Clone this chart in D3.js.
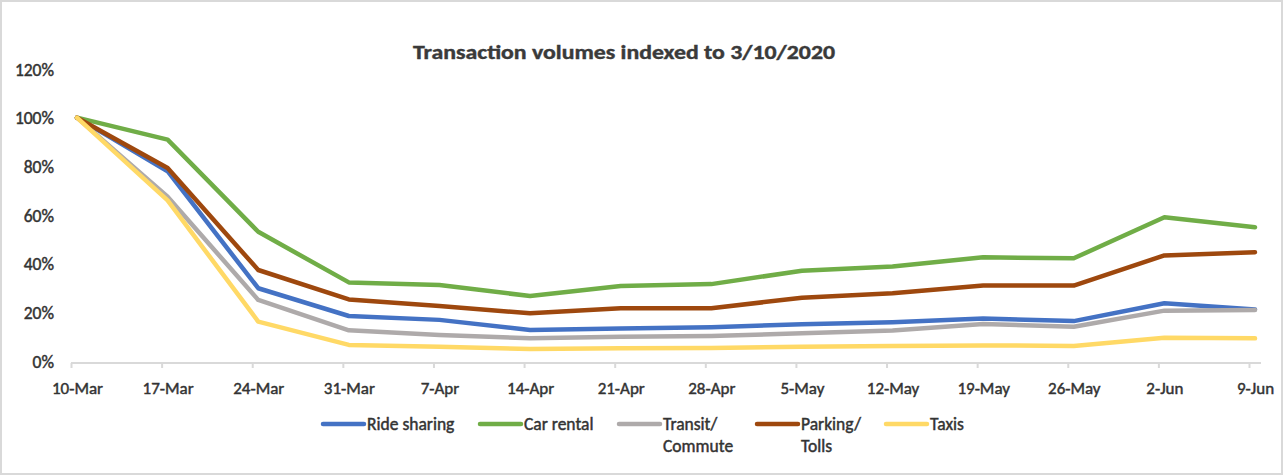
<!DOCTYPE html>
<html>
<head>
<meta charset="utf-8">
<script src="https://cdn.jsdelivr.net/npm/d3@7"></script>
<style>
  html, body { margin: 0; padding: 0; background: #fff; }
  svg { display: block; }
</style>
</head>
<body>
<svg id="chart" width="1284" height="476"></svg>
<script>
const categories = ["10-Mar","17-Mar","24-Mar","31-Mar","7-Apr","14-Apr","21-Apr","28-Apr","5-May","12-May","19-May","26-May","2-Jun","9-Jun"];
const rideSharing = [100, 78, 29.9, 18.5, 16.9, 12.7, 13.4, 13.9, 15.1, 15.9, 17.5, 16.4, 23.7, 21.2];
const carRental   = [100, 91, 53.1, 32.3, 31.2, 26.7, 30.8, 31.6, 37.1, 38.8, 42.6, 42.2, 59.1, 55.0];
const transit     = [100, 67.5, 25.1, 12.6, 10.7, 9.3, 10.0, 10.3, 11.4, 12.5, 15.2, 14.1, 20.7, 21.0];
const parking     = [100, 79.3, 37.4, 25.3, 22.6, 19.6, 21.7, 21.7, 26.0, 27.8, 31.0, 31.0, 43.4, 44.7];
const taxis       = [100, 66, 16.2, 6.6, 5.9, 4.9, 5.2, 5.3, 5.9, 6.2, 6.4, 6.2, 9.6, 9.3];
const yTicks = [0, 20, 40, 60, 80, 100, 120];
const seriesNames = [["Ride sharing"], ["Car rental"], ["Transit/", "Commute"], ["Parking/", "Tolls"], ["Taxis"]];
const seriesValues = [rideSharing, carRental, transit, parking, taxis];
const colors = ["#4472C4", "#70AD47", "#AEAAAA", "#9E480E", "#FFD966"];
const titleText = "Transaction volumes indexed to 3/10/2020";

const svg = d3.select("#chart");
const FONT = "Calibri, Carlito, Lato, 'Open Sans', sans-serif";
const textColor = "#333333";

function styleText(sel, size) {
  sel.attr("font-family", FONT).attr("font-size", size).attr("fill", textColor)
    .attr("stroke", textColor).attr("stroke-width", 0.45).attr("paint-order", "stroke");
}

// border
svg.append("rect").attr("x", 1).attr("y", 1).attr("width", 1281).attr("height", 473)
  .attr("fill", "#fff").attr("stroke", "#d9d9d9").attr("stroke-width", 2);

// title
svg.append("text").attr("x", 624).attr("y", 59).attr("text-anchor", "middle")
  .attr("font-family", FONT).attr("font-weight", "bold").attr("font-size", 19.5)
  .attr("fill", "#3a3a3a").attr("stroke", "#3a3a3a").attr("stroke-width", 0.4)
  .attr("textLength", 422).attr("lengthAdjust", "spacingAndGlyphs")
  .text(titleText);

const x = d3.scalePoint().domain(categories).range([77, 1255]);
const y = d3.scaleLinear().domain([0, 120]).range([361, 69]);

// y axis labels
const yAxis = d3.axisLeft(y).tickValues(yTicks).tickFormat(d => d + "%").tickSize(0).tickPadding(0);
const yg = svg.append("g").attr("transform", "translate(54,0)").call(yAxis);
yg.select(".domain").remove();
styleText(yg.selectAll("text"), 17.5);
yg.selectAll("text").attr("dy", "0.35em");

// x axis line and ticks (ticks offset left of category points)
const xAxis = d3.axisBottom(x).tickSize(5).tickSizeOuter(0).tickPadding(14);
const xg = svg.append("g").attr("transform", "translate(0,363)").call(xAxis);
xg.select(".domain").attr("d", "M71,0H1261").attr("stroke", "#d9d9d9").attr("stroke-width", 2);
xg.selectAll(".tick line").attr("stroke", "#d9d9d9").attr("stroke-width", 2).attr("transform", "translate(-6,0)");
styleText(xg.selectAll(".tick text"), 17);

// lines
const line = d3.line().x((d, i) => x(categories[i])).y(d => y(d));
seriesValues.forEach((vals, k) => {
  svg.append("path").datum(vals).attr("d", line)
    .attr("fill", "none").attr("stroke", colors[k]).attr("stroke-width", 4.5)
    .attr("stroke-linejoin", "round").attr("stroke-linecap", "round");
});

// legend
const legendX = [323, 480, 619, 757, 886];
seriesNames.forEach((lines, k) => {
  const g = svg.append("g").attr("transform", `translate(${legendX[k]},424)`);
  g.append("line").attr("x1", 0).attr("x2", 41).attr("y1", 0).attr("y2", 0)
    .attr("stroke", colors[k]).attr("stroke-width", 4.5).attr("stroke-linecap", "round");
  lines.forEach((t, j) => {
    const tx = g.append("text").attr("x", 44).attr("y", j * 22).attr("dy", "0.35em").text(t);
    styleText(tx, 17.5);
  });
});
</script>
</body>
</html>
